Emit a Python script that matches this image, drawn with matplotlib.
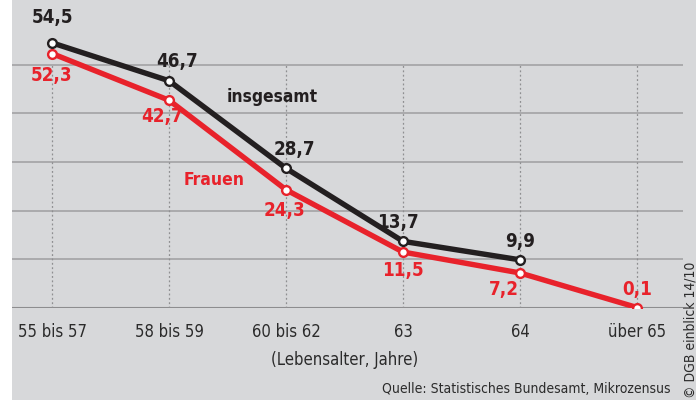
import matplotlib.pyplot as plt
from matplotlib import font_manager as fm
from matplotlib.patches import Rectangle

categories = ['55 bis 57', '58 bis 59', '60 bis 62', '63', '64', 'über 65']
insgesamt = [54.5, 46.7, 28.7, 13.7, 9.9]
frauen = [52.3, 42.7, 24.3, 11.5, 7.2, 0.1]
insg_labels = ['54,5', '46,7', '28,7', '13,7', '9,9']
frauen_labels = ['52,3', '42,7', '24,3', '11,5', '7,2', '0,1']

# pick a narrow font if one is there
avail = {(f.name, str(f.stretch)) for f in fm.fontManager.ttflist}
names = {n for n, s in avail}
STRETCH = 'normal'
if 'Liberation Sans Narrow' in names:
    FONT = ['Liberation Sans Narrow', 'DejaVu Sans']
elif ('DejaVu Sans', 'condensed') in avail or ('DejaVu Sans', 'semi-condensed') in avail:
    FONT = ['DejaVu Sans']
    STRETCH = 'condensed'
else:
    FONT = ['Roboto', 'DejaVu Sans']
txt = dict(family=FONT, stretch=STRETCH)

BG = '#d7d8da'
BLACK = '#231f20'
RED = '#e8222b'

fig = plt.figure(figsize=(6.96, 4.0), dpi=100, facecolor=BG)
fig.patches.append(Rectangle((0, 0), 12/696, 1, transform=fig.transFigure,
                             facecolor='white', edgecolor='none', zorder=0))

ax = fig.add_axes([12/696, 92/400, 671/696, 308/400])
ax.set_facecolor('none')
ax.set_xlim(-0.342, 5.393)
ax.set_ylim(0, 63.3)

for s in ax.spines.values():
    s.set_visible(False)

for v in [10, 20, 30, 40, 50]:
    ax.axhline(v, color='#a3a3a5', lw=1.2, zorder=1)
ax.axhline(0, color='#8d8d8f', lw=1.5, zorder=1)
xs = list(range(len(categories)))
ax.vlines(xs, 0, 50, colors='#8f8f91', linestyles=(0, (1.5, 2)), lw=0.9, zorder=1)

ax.set_yticks([])
ax.set_xticks(xs)
ax.set_xticklabels(categories, fontsize=12, color='#2b2b2b', **txt)
ax.tick_params(axis='x', length=0, pad=11)

ax.plot(xs, frauen, color=RED, lw=3.9, marker='o', ms=6.3, mfc='white',
        mec=RED, mew=1.7, zorder=3, solid_joinstyle='round')
ax.plot(xs[:len(insgesamt)], insgesamt, color=BLACK, lw=3.9, marker='o', ms=6.3,
        mfc='white', mec=BLACK, mew=1.7, zorder=4, solid_joinstyle='round')

insg_off = [(0, 25), (8, 19), (8, 19), (-5, 19), (0, 18)]
frauen_off = [(0, -22), (-7, -16), (-2, -21), (0, -18), (-16, -17), (0, 18)]
for x, y, t, o in zip(xs, insgesamt, insg_labels, insg_off):
    ax.annotate(t, (x, y), xytext=o, textcoords='offset pixels', ha='center',
                va='center', fontsize=13.5, fontweight='bold', color=BLACK,
                zorder=5, **txt)
for x, y, t, o in zip(xs, frauen, frauen_labels, frauen_off):
    ax.annotate(t, (x, y), xytext=o, textcoords='offset pixels', ha='center',
                va='center', fontsize=13.5, fontweight='bold', color=RED,
                zorder=5, **txt)

fig.text(272/696, 1 - 97/400, 'insgesamt', ha='center', va='center',
         fontsize=12.5, fontweight='bold', color=BLACK, **txt)
fig.text(214/696, 1 - 180/400, 'Frauen', ha='center', va='center',
         fontsize=12.5, fontweight='bold', color=RED, **txt)

fig.text(345/696, 1 - 360/400, '(Lebensalter, Jahre)', ha='center', va='center',
         fontsize=12, color='#2b2b2b', **txt)
fig.text(670/696, 1 - 389/400, 'Quelle: Statistisches Bundesamt, Mikrozensus',
         ha='right', va='center', fontsize=10, color='#2b2b2b', **txt)
fig.text(690/696, 0.005, '© DGB einblick 14/10', ha='center', va='bottom',
         rotation=90, fontsize=10, color='#2b2b2b', **txt)

fig.savefig('out.png', dpi=100, facecolor=BG)
